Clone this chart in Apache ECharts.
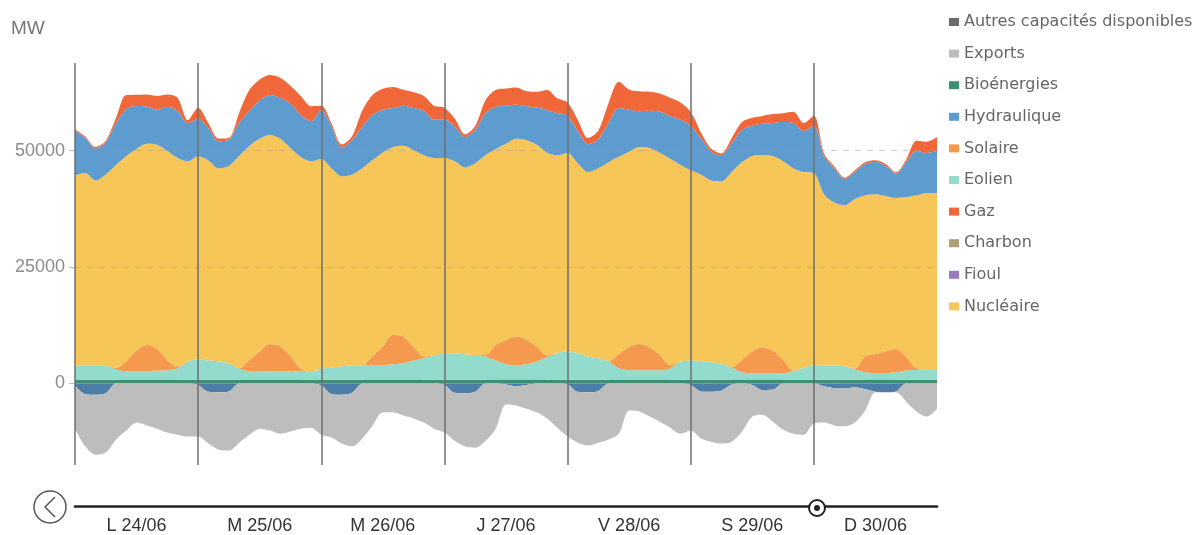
<!DOCTYPE html>
<html><head><meta charset="utf-8">
<script src="https://cdn.jsdelivr.net/npm/echarts@6/dist/echarts.min.js"></script>
<style>html,body{margin:0;padding:0;background:#fff}#c{width:1197px;height:535px}</style>
</head><body><div id="c"></div>
<script>
// ---- categories / labels ----
const days = ['L 24/06','M 25/06','M 26/06','J 27/06','V 28/06','S 29/06','D 30/06'];
const hours = ['00h','02h','04h','06h','08h','10h','12h','14h','16h','18h','20h','22h'];
const lastCategory = 'L 01/07 00h';
const yTicks = [0, 25000, 50000];

// ---- series values (MW), 2-hour steps, 24/06 00h -> 01/07 00h ----
const bioenergies = [
 800,790,780,790,820,850,860,850,840,830,820,810,
 800,790,790,800,820,850,860,850,840,830,820,810,
 800,790,780,790,820,850,860,850,840,830,820,810,
 800,790,780,790,810,840,850,850,840,830,820,810,
 800,790,780,790,820,850,860,850,840,830,820,810,
 790,780,770,780,800,830,840,840,830,820,810,800,
 790,780,770,780,800,820,830,830,820,810,800,800,800];
const eolien = [
 3000,3000,3000,3000,2200,1800,1800,1800,1900,2000,2400,3900,
 4400,4200,4000,3500,2400,1800,1800,1800,1800,1800,1700,1600,
 2400,2600,2900,3100,3100,3100,3100,3300,3500,4100,4600,5200,
 5700,5700,5500,5300,5000,4100,3300,3100,3300,3900,4800,5700,
 6100,5700,5000,4600,3900,2400,2000,2000,2000,2000,2400,3900,
 4200,4000,3800,3500,2600,1600,1400,1400,1400,1400,1800,2600,
 3100,3100,3100,2900,2200,1600,1400,1400,1600,2000,2100,2100,2100];
const solaire = [
 0,0,0,0,300,2100,4400,5600,4700,2200,300,0,
 0,0,0,0,100,2400,4200,5800,5300,3200,600,0,
 0,0,0,0,0,1900,4000,6300,5700,2900,400,0,
 0,0,0,0,300,3300,5200,6200,5200,3200,400,0,
 0,0,0,0,100,3000,4900,5600,4900,3300,700,0,
 0,0,0,0,100,2600,4700,5500,4800,2900,200,0,
 0,0,0,0,200,3400,4100,4700,5000,2900,300,0,0];
const nucleaire = [
 40900,41400,39800,41100,43600,44100,43300,43200,43800,44900,44900,43000,
 43600,42900,41400,42400,45500,46000,45700,44900,44600,44700,45500,45300,
 45000,42800,40800,41000,42300,42100,41600,40300,41000,42300,43200,42400,
 41900,41200,40100,41200,42900,42100,42100,42400,42900,43300,43500,42500,
 42600,40800,39600,40800,42700,42400,42000,42300,42800,43400,44300,42200,
 40800,40100,39000,39100,41900,42500,41900,41300,41800,42600,43400,42000,
 41300,36700,35000,34600,36400,34600,34300,33300,32400,34300,37200,38000,38000];
const hydraulique = [
 9500,7500,6900,6900,9000,10100,9200,8000,7500,9500,10100,8200,
 8000,6900,5800,5600,7100,7500,8200,8600,8800,9500,9000,8600,
 10500,9000,6200,7300,9000,9700,9200,8400,8600,9000,9500,8200,
 8200,7500,6500,7100,9000,9000,8200,7300,7300,8000,9200,9000,
 8000,6900,6000,6200,8400,10500,9000,7700,8000,8800,9200,9700,
 9500,7700,6200,5600,6200,6900,6500,6700,7100,8400,9700,8800,
 10100,8200,7300,5600,5800,6700,6900,6500,5200,7500,9500,8600,9000];
const gaz = [
 300,300,300,300,1100,3000,2400,2600,3000,2600,2800,600,
 2400,1100,600,400,2200,4500,4500,4300,4300,3900,4100,3200,
 900,600,600,900,3400,4300,4500,4500,3400,3400,3200,3000,
 2600,1700,600,900,2800,3700,3700,3700,3200,3400,4300,3200,
 2800,2400,1300,1900,4300,5600,4300,4300,4100,3900,3900,3700,
 3000,1300,600,400,1100,1700,1700,1700,1900,1900,2400,1700,
 2200,600,400,300,400,400,400,400,300,600,2200,2400,3000];
const pompage = [
 -500,-2300,-2400,-2100,0,0,0,0,0,0,0,0,
 -300,-1800,-1900,-1700,0,0,0,0,0,0,0,0,
 -400,-2300,-2400,-2000,0,0,0,0,0,0,0,0,
 -300,-2000,-2100,-1800,0,0,-200,-600,-300,0,0,0,
 -200,-1800,-1900,-1600,0,0,0,0,0,0,0,0,
 -300,-1700,-1800,-1500,-200,0,-300,-1400,-1300,0,0,0,
 0,-600,-1000,-1100,-800,-1200,-1800,-1900,-1700,0,0,0,0];
const exports_ = [
 -9200,-11200,-12900,-12700,-12000,-10100,-8400,-9000,-9700,-10500,-11000,-11400,
 -11100,-11100,-12300,-12700,-12700,-11000,-9700,-10100,-10800,-10300,-9700,-9500,
 -10600,-9300,-10500,-11500,-11800,-9000,-6200,-6200,-6900,-7500,-8400,-9700,
 -10200,-10300,-11400,-12000,-12300,-9700,-4300,-4100,-5100,-6200,-7500,-9500,
 -11200,-10900,-11400,-11100,-12000,-10800,-5800,-6000,-7100,-8200,-9500,-10800,
 -9800,-10100,-10700,-11400,-12300,-10300,-6800,-5300,-6900,-9900,-10800,-11000,
 -8600,-7800,-8000,-8100,-7600,-4600,-100,0,-200,-3900,-6000,-7100,-5400];
const charbon = [];
const fioul = [];
const autres = [];

const legendOrder = ['Autres capacités disponibles','Exports','Bioénergies','Hydraulique','Solaire','Eolien','Gaz','Charbon','Fioul','Nucléaire'];

// ---- build ----
const categories = [];
days.forEach(d => hours.forEach(h => categories.push(d + ' ' + h)));
categories.push(lastCategory);
const perDay = hours.length;

function area(name, data, color, stack, extra) {
  return Object.assign({
    name, type: 'line', stack, data, smooth: 0.3, showSymbol: false, symbol: 'none',
    lineStyle: { width: 0 }, areaStyle: { color, opacity: 1 }, itemStyle: { color },
    emphasis: { disabled: true }
  }, extra || {});
}

const chart = echarts.init(document.getElementById('c'));
chart.setOption({
  animation: false,
  grid: { left: 75, right: 260, top: 63, bottom: 68 },
  legend: {
    data: legendOrder, orient: 'vertical', left: 944, top: 9,
    itemWidth: 10, itemHeight: 8, itemGap: 15.6, icon: 'rect',
    textStyle: { fontFamily: 'DejaVu Sans', fontSize: 16, color: '#666' }
  },
  xAxis: {
    type: 'category', data: categories, boundaryGap: false, offset: 41,
    axisLine: { onZero: false, lineStyle: { color: '#222', width: 2.5 } },
    axisTick: { show: false },
    axisLabel: {
      interval: (i) => i % perDay === perDay / 2,
      formatter: (v, i) => days[Math.floor(i / perDay)],
      color: '#333', fontSize: 18, fontFamily: 'Liberation Sans', margin: 11
    },
    splitLine: { show: false }
  },
  yAxis: {
    type: 'value', min: -17500, max: 68800,
    axisLine: { show: false },
    axisTick: { show: true, customValues: yTicks, length: 6, lineStyle: { color: '#bbb' } },
    axisLabel: { customValues: yTicks, formatter: (v) => String(v), color: '#8c8c8c', fontSize: 18, fontFamily: 'Liberation Sans', margin: 10 },
    splitLine: { show: false }
  },
  graphic: [
    { type: 'text', left: 11, top: 19, style: { text: 'MW', font: '19px "Liberation Sans"', fill: '#777' } },
    { type: 'circle', shape: { cx: 50, cy: 507, r: 16 }, style: { fill: '#fff', stroke: '#555', lineWidth: 1.5 } },
    { type: 'polyline', shape: { points: [[55, 497], [45, 507], [55, 517]] }, style: { stroke: '#555', lineWidth: 1.5, fill: null } },
    { type: 'circle', shape: { cx: 817, cy: 508, r: 8 }, style: { fill: '#fff', stroke: '#222', lineWidth: 2 }, z: 100 },
    { type: 'circle', shape: { cx: 817, cy: 508, r: 3 }, style: { fill: '#222' }, z: 101 }
  ],
  series: [
    area('Bioénergies', bioenergies, '#3f8f72', 'pos'),
    area('Eolien', eolien, '#93dccd', 'pos'),
    area('Solaire', solaire, '#f5994f', 'pos'),
    area('Nucléaire', nucleaire, '#f6c658', 'pos'),
    area('Hydraulique', hydraulique, '#5e9bcf', 'pos'),
    area('Gaz', gaz, '#f0683a', 'pos'),
    area('Charbon', charbon, '#ad9f74', 'pos'),
    area('Fioul', fioul, '#9a7bc2', 'pos'),
    area('Pompage', pompage, '#4d7ea8', 'neg'),
    area('Exports', exports_, '#bdbdbd', 'neg', {
      markLine: {
        silent: true, symbol: 'none', label: { show: false }, z: 10,
        data: [
          ...yTicks.slice(1).map(v => ({ yAxis: v, lineStyle: { type: [6, 6], color: 'rgba(150,150,150,0.45)', width: 1.2 } })),
          ...days.map((d, i) => ({ xAxis: i * perDay, lineStyle: { type: 'solid', color: 'rgba(110,110,110,0.75)', width: 2 } }))
        ]
      }
    }),
    area('Autres capacités disponibles', autres, '#6b6b6b', 'pos')
  ]
});
</script></body></html>
